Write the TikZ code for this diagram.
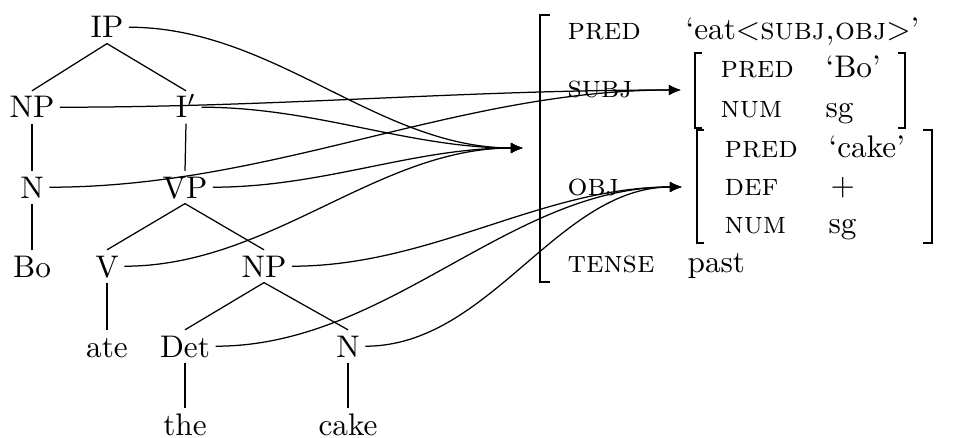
\documentclass[tikz,border=0pt]{standalone}
\usetikzlibrary{arrows.meta}
\begin{document}
\begin{tikzpicture}[x=0.32pt,y=-0.32pt,
  tn/.style={anchor=base, inner sep=1.6pt, text height=6.9pt, text depth=0pt},
  lab/.style={anchor=base west, inner sep=0pt},
  brk/.style={line width=0.75pt},
  arr/.style={-{Latex[length=3.9pt,width=3.4pt]}}]
\useasboundingbox (0,0) rectangle (957,437);
% tree
\node[tn] (IP) at (107,38) {IP};
\node[tn] (NPa) at (32,118) {NP};
\node[tn] (Ib) at (186,118) {I$'$};
\node[tn] (Na) at (32,198) {N};
\node[tn] (VP) at (185,198) {VP};
\node[tn] (Bo) at (32,277) {Bo};
\node[tn] (V) at (107,277) {V};
\node[tn] (NPb) at (264,277) {NP};
\node[tn] (ate) at (107,357) {ate};
\node[tn] (Det) at (185,357) {Det};
\node[tn] (Nb) at (348,357) {N};
\node[tn] (the) at (185,435) {the};
\node[tn] (cake) at (348,435) {cake};
\draw (IP.south) -- (NPa.north);
\draw (IP.south) -- (Ib.north);
\draw (NPa.south) -- (Na.north);
\draw (Ib.south) -- (VP.north);
\draw (Na.south) -- (Bo.north);
\draw (VP.south) -- (V.north);
\draw (VP.south) -- (NPb.north);
\draw (V.south) -- (ate.north);
\draw (NPb.south) -- (Det.north);
\draw (NPb.south) -- (Nb.north);
\draw (Det.south) -- (the.north);
\draw (Nb.south) -- (cake.north);
% f-structure
\draw[brk] (550,15) -| (540,282) -- (550,282);
\draw[brk] (702,53) -| (695,128) -- (702,128);
\draw[brk] (898,53) -| (905,128) -- (898,128);
\draw[brk] (704,130) -| (697,243) -- (704,243);
\draw[brk] (923,130) -| (932,243) -- (923,243);
\node[lab] (pred) at (567,40) {\textsc{pred}};
\node[lab] (predv) at (685,40) {`eat$<$\textsc{subj,obj}$>$'};
\node[lab] (subj) at (567,98) {\textsc{subj}};
\node[lab] (obj) at (567,195) {\textsc{obj}};
\node[lab] (tense) at (567,272) {\textsc{tense}};
\node[lab] (tensev) at (687,272) {past};
\node[lab] (spred) at (720,78) {\textsc{pred}};
\node[lab] (spredv) at (825,78) {`Bo'};
\node[lab] (snum) at (720,118) {\textsc{num}};
\node[lab] (snumv) at (825,118) {sg};
\node[lab] (opred) at (724,157) {\textsc{pred}};
\node[lab] (opredv) at (828,157) {`cake'};
\node[lab] (odef) at (724,195) {\textsc{def}};
\node[lab] (odefv) at (830,195) {$+$};
\node[lab] (onum) at (724,233) {\textsc{num}};
\node[lab] (onumv) at (828,233) {sg};
% arrow targets
\coordinate (fO) at (523,148);
\coordinate (fS) at (681,90);
\coordinate (fB) at (682,187);
% mapping arrows
\draw[arr] (IP.east) to[out=0,in=180,looseness=0.9] (fO);
\draw[arr] (Ib.east) to[out=0,in=180,looseness=0.9] (fO);
\draw[arr] (VP.east) to[out=0,in=180,looseness=0.9] (fO);
\draw[arr] (V.east) to[out=0,in=180,looseness=0.9] (fO);
\draw[arr] (NPa.east) to[out=0,in=180,looseness=0.9] (fS);
\draw[arr] (Na.east) to[out=0,in=180,looseness=0.9] (fS);
\draw[arr] (NPb.east) to[out=0,in=180,looseness=0.9] (fB);
\draw[arr] (Det.east) to[out=0,in=180,looseness=0.9] (fB);
\draw[arr] (Nb.east) to[out=0,in=180,looseness=0.9] (fB);
\end{tikzpicture}
\end{document}
